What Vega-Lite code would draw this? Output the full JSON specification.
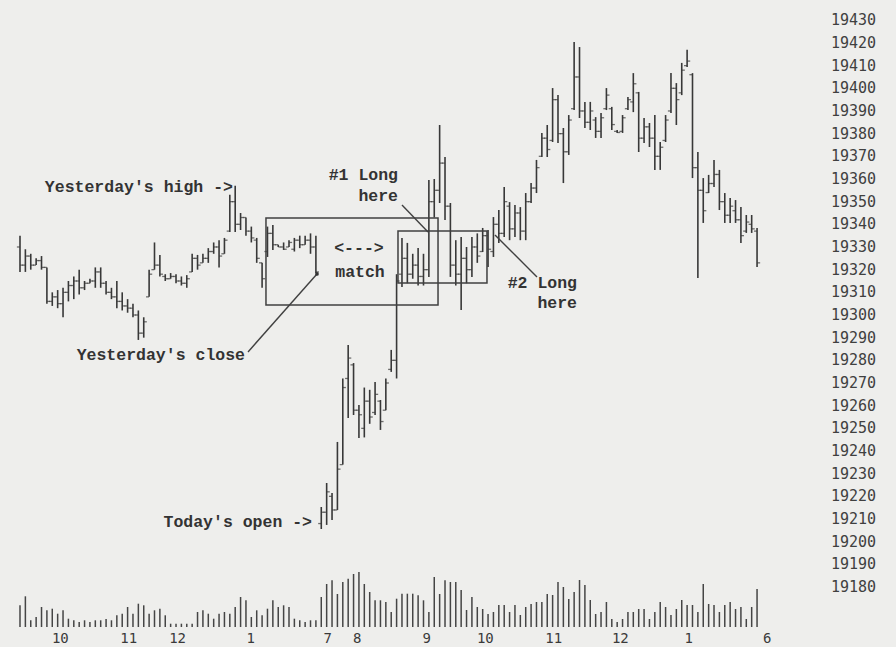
{
"$schema": "https://vega.github.io/schema/vega-lite/v6.json",
"width": 820, "height": 647,
"autosize": {"type": "none"},
"padding": {"left": 0, "top": 0, "right": 76, "bottom": 0},
"background": "#eeeeec",
"config": {"view": {"stroke": null}, "axis": {"grid": false}},
"datasets": {
"bars": [
{"k":0,"o":19330,"h":19335,"l":19319,"c":19322,"v":21.7},
{"k":1,"o":19322,"h":19329,"l":19319,"c":19326,"v":30.7},
{"k":2,"o":19326,"h":19327,"l":19320,"c":19322,"v":6.7},
{"k":3,"o":19322,"h":19325,"l":19322,"c":19324,"v":10},
{"k":4,"o":19324,"h":19326,"l":19320,"c":19321,"v":20},
{"k":5,"o":19321,"h":19321,"l":19305,"c":19306,"v":16.7},
{"k":6,"o":19306,"h":19310,"l":19304,"c":19308,"v":18.3},
{"k":7,"o":19308,"h":19311,"l":19303,"c":19305,"v":13.3},
{"k":8,"o":19305,"h":19312,"l":19299,"c":19310,"v":16.7},
{"k":9,"o":19310,"h":19315,"l":19306,"c":19313,"v":8.3},
{"k":10,"o":19313,"h":19317,"l":19307,"c":19315,"v":6.7},
{"k":11,"o":19315,"h":19320,"l":19309,"c":19312,"v":5},
{"k":12,"o":19312,"h":19315,"l":19311,"c":19314,"v":6.7},
{"k":13,"o":19314,"h":19316,"l":19314,"c":19315,"v":5},
{"k":14,"o":19315,"h":19321,"l":19312,"c":19319,"v":6.7},
{"k":15,"o":19319,"h":19321,"l":19312,"c":19314,"v":6.7},
{"k":16,"o":19314,"h":19315,"l":19309,"c":19310,"v":8},
{"k":17,"o":19310,"h":19312,"l":19307,"c":19308,"v":6.7},
{"k":18,"o":19308,"h":19315,"l":19303,"c":19306,"v":11.7},
{"k":19,"o":19306,"h":19310,"l":19302,"c":19304,"v":13.3},
{"k":20,"o":19304,"h":19307,"l":19301,"c":19303,"v":20},
{"k":21,"o":19303,"h":19305,"l":19299,"c":19300,"v":13.3},
{"k":22,"o":19300,"h":19302,"l":19289,"c":19292,"v":23.3},
{"k":23,"o":19292,"h":19299,"l":19290,"c":19297,"v":21.7},
{"k":24,"o":19308,"h":19320,"l":19308,"c":19318,"v":13.3},
{"k":25,"o":19320,"h":19332,"l":19320,"c":19322,"v":16.7},
{"k":26,"o":19322,"h":19326.5,"l":19317,"c":19318,"v":18.3},
{"k":27,"o":19317,"h":19318,"l":19315,"c":19316,"v":11.7},
{"k":28,"o":19316,"h":19318.5,"l":19316,"c":19317,"v":3.3},
{"k":29,"o":19317,"h":19318,"l":19314,"c":19315,"v":3.3},
{"k":30,"o":19315,"h":19317,"l":19313,"c":19314,"v":3.3},
{"k":31,"o":19314,"h":19317.6,"l":19312,"c":19316,"v":3.3},
{"k":32,"o":19319,"h":19327,"l":19319,"c":19325,"v":3.3},
{"k":33,"o":19325,"h":19326.5,"l":19320,"c":19322,"v":15},
{"k":34,"o":19323,"h":19327,"l":19323,"c":19325,"v":16.7},
{"k":35,"o":19325,"h":19329.5,"l":19323,"c":19328,"v":13.3},
{"k":36,"o":19328,"h":19332,"l":19327,"c":19330,"v":8.3},
{"k":37,"o":19330,"h":19333,"l":19321,"c":19326,"v":13.3},
{"k":38,"o":19327,"h":19334,"l":19327,"c":19333,"v":15},
{"k":39,"o":19337,"h":19353,"l":19336.6,"c":19350,"v":13.3},
{"k":40,"o":19350,"h":19357,"l":19336.6,"c":19340,"v":20},
{"k":41,"o":19340,"h":19345,"l":19337.5,"c":19343,"v":30},
{"k":42,"o":19343,"h":19343,"l":19335,"c":19337,"v":26.7},
{"k":43,"o":19337,"h":19339,"l":19332,"c":19334,"v":10},
{"k":44,"o":19333,"h":19334,"l":19323,"c":19325,"v":16.7},
{"k":45,"o":19323,"h":19323,"l":19312,"c":19316,"v":11.7},
{"k":46,"o":19328,"h":19339,"l":19325.6,"c":19336,"v":18.3},
{"k":47,"o":19336,"h":19339.7,"l":19328.7,"c":19331,"v":26.7},
{"k":48,"o":19331,"h":19331,"l":19330,"c":19330,"v":20},
{"k":49,"o":19330,"h":19332,"l":19328.7,"c":19329,"v":21.7},
{"k":50,"o":19330,"h":19333,"l":19330,"c":19332,"v":20},
{"k":51,"o":19329,"h":19334,"l":19328,"c":19333,"v":8.3},
{"k":52,"o":19333,"h":19335,"l":19329.5,"c":19331,"v":6.7},
{"k":53,"o":19331,"h":19335,"l":19331,"c":19333,"v":5},
{"k":54,"o":19333,"h":19336,"l":19327,"c":19330,"v":6.7},
{"k":55,"o":19330,"h":19335,"l":19318.5,"c":19319,"v":6.7},
{"k":56,"o":19208,"h":19215.3,"l":19205.6,"c":19213,"v":30},
{"k":57,"o":19213,"h":19225.9,"l":19207.4,"c":19222,"v":43},
{"k":58,"o":19220,"h":19221.5,"l":19209.6,"c":19214,"v":46.7},
{"k":59,"o":19214,"h":19244,"l":19214,"c":19232,"v":33},
{"k":60,"o":19234,"h":19272,"l":19234,"c":19268,"v":45},
{"k":61,"o":19272,"h":19286.8,"l":19254.6,"c":19281,"v":48.3},
{"k":62,"o":19278,"h":19278.8,"l":19255.9,"c":19258,"v":53},
{"k":63,"o":19258,"h":19260.3,"l":19245.7,"c":19256,"v":55},
{"k":64,"o":19250,"h":19268,"l":19246,"c":19262,"v":43},
{"k":65,"o":19262,"h":19267,"l":19252,"c":19255,"v":35},
{"k":66,"o":19257,"h":19270.4,"l":19255.9,"c":19265,"v":26.7},
{"k":67,"o":19262,"h":19262.5,"l":19249.3,"c":19253,"v":26.7},
{"k":68,"o":19258,"h":19272,"l":19258,"c":19270,"v":25},
{"k":69,"o":19276,"h":19284.6,"l":19274.9,"c":19280,"v":15},
{"k":70,"o":19280,"h":19318,"l":19272,"c":19315,"v":28.3},
{"k":71,"o":19318,"h":19334,"l":19312.4,"c":19325,"v":33.3},
{"k":72,"o":19325,"h":19331.8,"l":19314,"c":19318,"v":33.3},
{"k":73,"o":19318,"h":19327,"l":19316,"c":19322,"v":33.3},
{"k":74,"o":19322,"h":19329.5,"l":19313,"c":19317,"v":31.7},
{"k":75,"o":19317,"h":19327,"l":19313,"c":19320,"v":26.7},
{"k":76,"o":19320,"h":19359.5,"l":19316.8,"c":19350,"v":15},
{"k":77,"o":19350,"h":19360,"l":19343,"c":19355,"v":50},
{"k":78,"o":19355,"h":19383.8,"l":19349.4,"c":19367,"v":33},
{"k":79,"o":19367,"h":19369.7,"l":19341.9,"c":19348,"v":46.7},
{"k":80,"o":19348,"h":19349.4,"l":19316.8,"c":19322,"v":45},
{"k":81,"o":19322,"h":19333,"l":19313,"c":19318,"v":45},
{"k":82,"o":19318,"h":19334.4,"l":19302.2,"c":19325,"v":37},
{"k":83,"o":19325,"h":19330,"l":19314,"c":19320,"v":17},
{"k":84,"o":19320,"h":19334.4,"l":19316.8,"c":19330,"v":30},
{"k":85,"o":19330,"h":19336,"l":19323,"c":19326,"v":20},
{"k":86,"o":19328,"h":19338.4,"l":19327.8,"c":19335,"v":18},
{"k":87,"o":19335,"h":19337.5,"l":19321.2,"c":19329,"v":13},
{"k":88,"o":19328,"h":19343.2,"l":19325.6,"c":19340,"v":15},
{"k":89,"o":19340,"h":19346.3,"l":19331.8,"c":19336,"v":22},
{"k":90,"o":19336,"h":19356.5,"l":19334.4,"c":19350,"v":22},
{"k":91,"o":19348,"h":19349.8,"l":19333,"c":19338,"v":15},
{"k":92,"o":19338,"h":19348.5,"l":19334.4,"c":19345,"v":22},
{"k":93,"o":19345,"h":19347.6,"l":19333,"c":19337,"v":12},
{"k":94,"o":19337,"h":19353.8,"l":19333,"c":19350,"v":20},
{"k":95,"o":19350,"h":19358.2,"l":19349.4,"c":19356,"v":23},
{"k":96,"o":19356,"h":19368.4,"l":19353.8,"c":19365,"v":25},
{"k":97,"o":19370,"h":19380.3,"l":19369.7,"c":19378,"v":25},
{"k":98,"o":19378,"h":19383.8,"l":19369.7,"c":19373,"v":33},
{"k":99,"o":19377,"h":19400.1,"l":19376.3,"c":19395,"v":32},
{"k":100,"o":19395,"h":19397,"l":19375.9,"c":19380,"v":45},
{"k":101,"o":19380,"h":19382.5,"l":19358.2,"c":19372,"v":40},
{"k":102,"o":19372,"h":19388.2,"l":19370.6,"c":19386,"v":28},
{"k":103,"o":19391,"h":19420.4,"l":19390.4,"c":19405,"v":35},
{"k":104,"o":19405,"h":19418.2,"l":19386.9,"c":19390,"v":47},
{"k":105,"o":19390,"h":19394,"l":19382.5,"c":19385,"v":42},
{"k":106,"o":19385,"h":19394,"l":19381.6,"c":19390,"v":27},
{"k":107,"o":19386,"h":19387.3,"l":19378.1,"c":19381,"v":13},
{"k":108,"o":19381,"h":19389.1,"l":19378.1,"c":19387,"v":15},
{"k":109,"o":19391,"h":19400.1,"l":19390.4,"c":19397,"v":25},
{"k":110,"o":19391,"h":19391.8,"l":19381.6,"c":19384,"v":8},
{"k":111,"o":19381,"h":19381.6,"l":19380.3,"c":19380.5,"v":5},
{"k":112,"o":19381,"h":19388.2,"l":19380.3,"c":19387,"v":8},
{"k":113,"o":19391,"h":19396.2,"l":19390.4,"c":19395,"v":15},
{"k":114,"o":19394,"h":19406.7,"l":19389.5,"c":19402,"v":15},
{"k":115,"o":19398,"h":19398.4,"l":19371.9,"c":19378,"v":18},
{"k":116,"o":19378,"h":19386.9,"l":19375.9,"c":19383,"v":18},
{"k":117,"o":19383,"h":19384.7,"l":19374.1,"c":19378,"v":8},
{"k":118,"o":19378,"h":19388.2,"l":19364,"c":19370,"v":15},
{"k":119,"o":19370,"h":19376.3,"l":19364,"c":19374,"v":25},
{"k":120,"o":19377,"h":19388.2,"l":19376.3,"c":19386,"v":20},
{"k":121,"o":19390,"h":19406.7,"l":19389.1,"c":19400,"v":12},
{"k":122,"o":19400,"h":19402.3,"l":19383.8,"c":19395,"v":18},
{"k":123,"o":19398,"h":19411.2,"l":19397,"c":19408,"v":27},
{"k":124,"o":19410,"h":19417,"l":19409.4,"c":19412,"v":22},
{"k":125,"o":19406,"h":19406.7,"l":19360.4,"c":19365,"v":22},
{"k":126,"o":19365,"h":19371.9,"l":19316.3,"c":19355,"v":15},
{"k":127,"o":19355,"h":19360.4,"l":19340.6,"c":19346,"v":43},
{"k":128,"o":19354,"h":19361.8,"l":19353.8,"c":19358,"v":23},
{"k":129,"o":19358,"h":19368.4,"l":19356.5,"c":19362,"v":22},
{"k":130,"o":19362,"h":19364,"l":19346.3,"c":19350,"v":15},
{"k":131,"o":19350,"h":19353.8,"l":19340.6,"c":19344,"v":22},
{"k":132,"o":19344,"h":19351.6,"l":19340.6,"c":19348,"v":25},
{"k":133,"o":19346,"h":19350.7,"l":19340.6,"c":19342,"v":18},
{"k":134,"o":19342,"h":19347.6,"l":19331.8,"c":19335,"v":20},
{"k":135,"o":19337,"h":19344.1,"l":19336.2,"c":19341,"v":8},
{"k":136,"o":19340,"h":19344.1,"l":19336.2,"c":19338,"v":20},
{"k":137,"o":19337,"h":19338.4,"l":19321.2,"c":19323,"v":38}
],
"ylabels": [
{"p":19180},{"p":19190},{"p":19200},{"p":19210},{"p":19220},{"p":19230},{"p":19240},{"p":19250},{"p":19260},{"p":19270},{"p":19280},{"p":19290},{"p":19300},
{"p":19310},{"p":19320},{"p":19330},{"p":19340},{"p":19350},{"p":19360},{"p":19370},{"p":19380},{"p":19390},{"p":19400},{"p":19410},{"p":19420},{"p":19430}
],
"notesRight": [
{"k":39.59,"p":19356.6,"text":"Yesterday's high ->"},
{"k":41.82,"p":19282.4,"text":"Yesterday's close"},
{"k":54.28,"p":19208.7,"text":"Today's open ->"},
{"k":70.26,"p":19361.8,"text":"#1 Long"},
{"k":70.26,"p":19352.5,"text":"here"},
{"k":103.53,"p":19314.1,"text":"#2 Long"},
{"k":103.53,"p":19305.3,"text":"here"}
],
"notesCenter": [
{"k":63.0,"p":19329.6,"text":"<--->"},
{"k":63.2,"p":19319,"text":"match"}
],
"boxes": [
{"k1":45.72,"k2":77.7,"p1":19342.8,"p2":19304.4},
{"k1":70.26,"k2":86.8,"p1":19337.05,"p2":19314.1}
],
"lines": [
{"k1":42.38,"k2":55.2,"p1":19283.7,"p2":19318.1},
{"k1":71.0,"k2":75.84,"p1":19348.5,"p2":19336.6},
{"k1":88.29,"k2":96.1,"p1":19335.3,"p2":19316.8}
],
"dot": [{"k":55.2,"p":19318.1}]
},
"resolve": {"scale": {"y": "independent"}},
"layer": [
{
"layer": [
{"data": {"name": "bars"},
 "mark": {"type": "rule", "color": "#383838", "strokeWidth": 1.6},
 "encoding": {
  "x": {"field": "k", "type": "quantitative", "title": null,
        "scale": {"domain": [-3.717, 148.7], "nice": false, "zero": false},
        "axis": {"orient": "bottom", "values": [7.4, 20.1, 29.2, 42.8, 57.1, 62.6, 75.5, 86.4, 99.1, 111.5, 124.2, 138.8],
                 "labelExpr": "datum.value == 7.4 ? '10' : datum.value == 20.1 ? '11' : datum.value == 29.2 ? '12' : datum.value == 42.8 ? '1' : datum.value == 57.1 ? '7' : datum.value == 62.6 ? '8' : datum.value == 75.5 ? '9' : datum.value == 86.4 ? '10' : datum.value == 99.1 ? '11' : datum.value == 111.5 ? '12' : datum.value == 124.2 ? '1' : '6'",
                 "domain": false, "ticks": false, "tickSize": 0, "labelPadding": 0, "offset": -9, "labelBaseline": "middle",
                 "labelFont": "DejaVu Sans Mono", "labelFontSize": 14, "labelColor": "#3a3a3a",
                 "labelFlush": false, "labelOverlap": false, "grid": false}},
  "y": {"field": "l", "type": "quantitative", "title": null, "axis": null,
        "scale": {"domain": [19153.55, 19438.95], "nice": false, "zero": false}},
  "y2": {"field": "h"}
 }},
{"data": {"name": "bars"},
 "mark": {"type": "tick", "orient": "horizontal", "size": 3, "thickness": 1.3, "xOffset": -1.6, "color": "#383838"},
 "encoding": {"x": {"field": "k", "type": "quantitative", "title": null}, "y": {"field": "o", "type": "quantitative", "axis": null}}},
{"data": {"name": "bars"},
 "mark": {"type": "tick", "orient": "horizontal", "size": 3, "thickness": 1.3, "xOffset": 1.6, "color": "#383838"},
 "encoding": {"x": {"field": "k", "type": "quantitative", "title": null}, "y": {"field": "c", "type": "quantitative", "axis": null}}},
{"data": {"name": "boxes"},
 "mark": {"type": "rect", "fill": null, "fillOpacity": 0, "stroke": "#404040", "strokeWidth": 1.5},
 "encoding": {"x": {"field": "k1", "type": "quantitative", "title": null}, "x2": {"field": "k2"},
              "y": {"field": "p1", "type": "quantitative", "axis": null}, "y2": {"field": "p2"}}},
{"data": {"name": "lines"},
 "mark": {"type": "rule", "color": "#404040", "strokeWidth": 1.4},
 "encoding": {"x": {"field": "k1", "type": "quantitative", "title": null}, "x2": {"field": "k2"},
              "y": {"field": "p1", "type": "quantitative", "axis": null}, "y2": {"field": "p2"}}},
{"data": {"name": "dot"},
 "mark": {"type": "point", "filled": true, "size": 14, "color": "#333333", "opacity": 1},
 "encoding": {"x": {"field": "k", "type": "quantitative", "title": null}, "y": {"field": "p", "type": "quantitative", "axis": null}}},
{"data": {"name": "ylabels"},
 "mark": {"type": "text", "align": "left", "baseline": "middle", "font": "DejaVu Sans Mono", "fontSize": 15, "color": "#404040"},
 "encoding": {"x": {"datum": 150.74, "type": "quantitative"}, "y": {"field": "p", "type": "quantitative", "axis": null}, "text": {"field": "p", "type": "quantitative", "format": "d"}}},
{"data": {"name": "notesRight"},
 "mark": {"type": "text", "align": "right", "baseline": "middle", "font": "Liberation Mono", "fontWeight": "bold", "fontSize": 16.5, "color": "#333333"},
 "encoding": {"x": {"field": "k", "type": "quantitative", "title": null}, "y": {"field": "p", "type": "quantitative", "axis": null}, "text": {"field": "text"}}},
{"data": {"name": "notesCenter"},
 "mark": {"type": "text", "align": "center", "baseline": "middle", "font": "Liberation Mono", "fontWeight": "bold", "fontSize": 16.5, "color": "#333333"},
 "encoding": {"x": {"field": "k", "type": "quantitative", "title": null}, "y": {"field": "p", "type": "quantitative", "axis": null}, "text": {"field": "text"}}}
]
},
{"data": {"name": "bars"},
 "mark": {"type": "rule", "color": "#454545", "strokeWidth": 1.5},
 "encoding": {
  "x": {"field": "k", "type": "quantitative", "title": null},
  "y": {"field": "v", "type": "quantitative", "title": null, "axis": null, "scale": {"domain": [0, 55], "range": [627, 572], "nice": false, "zero": true}},
  "y2": {"datum": 0}
 }}
]
}
